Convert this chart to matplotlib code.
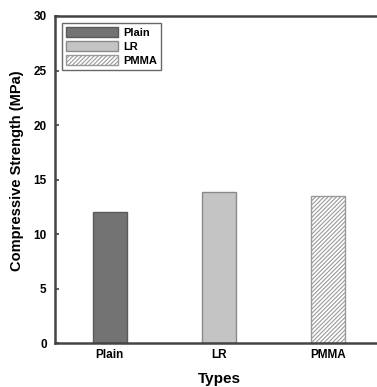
import matplotlib
matplotlib.use("Agg")
import matplotlib.pyplot as plt
from matplotlib.patches import Patch

categories = ["Plain", "LR", "PMMA"]
values = [12.0, 13.85, 13.5]
yticks = [0, 5, 10, 15, 20, 25, 30]

plt.rcParams['font.family'] = ['Liberation Sans', 'DejaVu Sans']
plt.rcParams['hatch.color'] = '#a0a0a0'
plt.rcParams['hatch.linewidth'] = 0.8

fig = plt.figure(figsize=(3.77, 3.87), dpi=100)
ax = fig.add_axes([55/377, 1-343.3/387, (383-55)/377, (343.3-16)/387])

faces = ['#737373', '#c4c4c4', 'white']
hatches = [None, None, '////////']
edges = ['#5a5a5a', '#8a8a8a', '#9a9a9a']
x = list(range(1, len(categories)+1))
for xi, v, fc, h, ec in zip(x, values, faces, hatches, edges):
    ax.bar(xi, v, width=0.31, color=fc, edgecolor=ec, hatch=h, linewidth=1.0)

ax.set_xlim(0.5, 3.5)
ax.set_ylim(0, 30)
ax.set_yticks(yticks)
ax.set_xticks(x)
ax.set_xticklabels(categories, fontweight='bold', fontsize=8.5)
ax.set_yticklabels([str(t) for t in yticks], fontweight='bold', fontsize=8.5)
ax.tick_params(axis='y', direction='in', length=3, width=1.2, color='#444444', pad=6)
ax.tick_params(axis='x', length=0, pad=4)
for s in ['left', 'bottom', 'top']:
    ax.spines[s].set_linewidth(1.8)
    ax.spines[s].set_color('#444444')
ax.spines['right'].set_visible(False)

ax.set_ylabel("Compressive Strength (MPa)", fontweight='bold', fontsize=10.5)
ax.yaxis.set_label_coords(-31/328, 0.526)
ax.set_xlabel("Types", fontweight='bold', fontsize=11, labelpad=8)

handles = [Patch(facecolor=fc, edgecolor=ec, hatch=h, label=c)
           for c, fc, h, ec in zip(categories, faces, hatches, edges)]
leg = ax.legend(handles=handles, loc='upper left', bbox_to_anchor=(0.005, 0.995),
                prop={'weight': 'bold', 'size': 8}, frameon=True, fancybox=False,
                edgecolor='#444444', handlelength=4.7, handleheight=1.0,
                borderpad=0.35, labelspacing=0.3, handletextpad=0.4)
leg.get_frame().set_linewidth(1.0)

fig.savefig("out.png", dpi=100)
